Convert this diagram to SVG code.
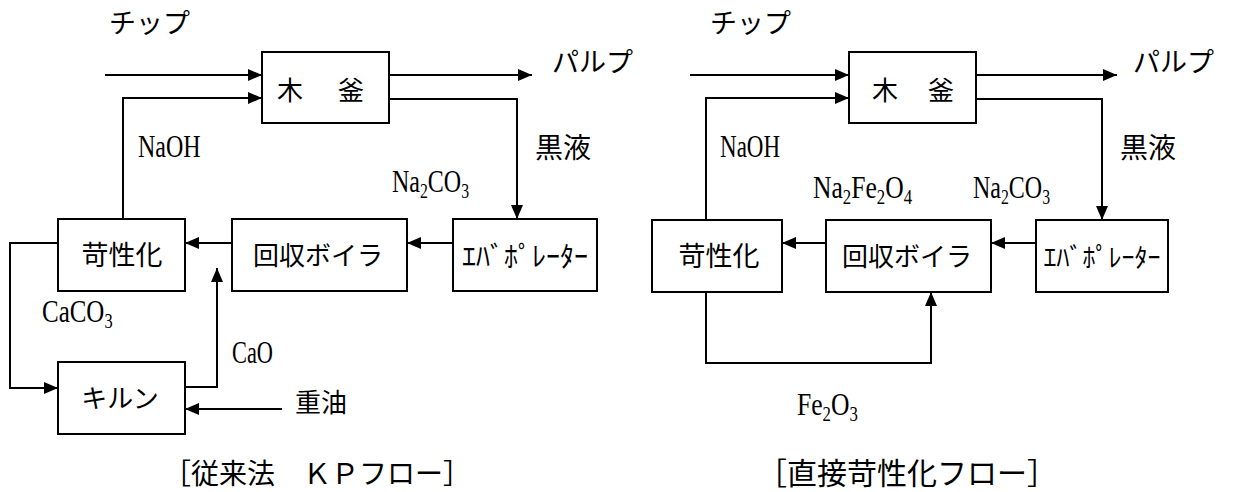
<svg xmlns="http://www.w3.org/2000/svg" width="1233" height="492" viewBox="0 0 1233 492">
<defs>
<style>
.box{fill:#fff;stroke:#000;stroke-width:2}
.ln{fill:none;stroke:#000;stroke-width:2}
.jp{font-family:"Noto Sans CJK JP",sans-serif;fill:#000}
.ch{font-family:"Liberation Serif",serif;font-size:32px;fill:#000}
.sb{font-size:21px}
</style>
<marker id="ah" viewBox="0 0 14 12" refX="14" refY="6" markerWidth="14" markerHeight="12" markerUnits="userSpaceOnUse" orient="auto"><path d="M0,0 L14,6 L0,12 z" fill="#000"/></marker>
</defs>
<rect width="1233" height="492" fill="#fff"/>

<g id="connectors">
<path class="ln" d="M105,75 H262" marker-end="url(#ah)"/>
<path class="ln" d="M123,219 V98 H262" marker-end="url(#ah)"/>
<path class="ln" d="M389,75 H532" marker-end="url(#ah)"/>
<path class="ln" d="M389,99 H517 V219" marker-end="url(#ah)"/>
<path class="ln" d="M453,243 H407" marker-end="url(#ah)"/>
<path class="ln" d="M232,243 H185" marker-end="url(#ah)"/>
<path class="ln" d="M58,243 H10 V388 H58" marker-end="url(#ah)"/>
<path class="ln" d="M185,387 H217 V268" marker-end="url(#ah)"/>
<path class="ln" d="M282,409 H185" marker-end="url(#ah)"/>

<path class="ln" d="M690,75 H849" marker-end="url(#ah)"/>
<path class="ln" d="M706,220 V98 H849" marker-end="url(#ah)"/>
<path class="ln" d="M976,75 H1117" marker-end="url(#ah)"/>
<path class="ln" d="M976,99 H1102 V220" marker-end="url(#ah)"/>
<path class="ln" d="M1036,243 H991" marker-end="url(#ah)"/>
<path class="ln" d="M826,243 H782" marker-end="url(#ah)"/>
<path class="ln" d="M706,292 V363 H931 V292" marker-end="url(#ah)"/>
</g>

<g id="kp-digester">
<rect class="box" x="262" y="52" width="127" height="71"/>
<text class="jp" x="290" y="100" font-size="26" text-anchor="middle">木</text>
<text class="jp" x="351" y="100" font-size="26" text-anchor="middle">釜</text>
</g>
<g id="kp-causticizer">
<rect class="box" x="58" y="219" width="127" height="72"/>
<text class="jp" x="122" y="265" font-size="27" text-anchor="middle">苛性化</text>
</g>
<g id="kp-boiler">
<rect class="box" x="232" y="219" width="175" height="72"/>
<text class="jp" x="318" y="265" font-size="26" text-anchor="middle">回収ボイラ</text>
</g>
<g id="kp-evaporator">
<rect class="box" x="453" y="219" width="144" height="72"/>
<text class="jp" x="525" y="267" font-size="28" text-anchor="middle">ｴﾊﾞﾎﾟﾚｰﾀｰ</text>
</g>
<g id="kp-kiln">
<rect class="box" x="58" y="362" width="127" height="72"/>
<text class="jp" x="120" y="408" font-size="26" text-anchor="middle">キルン</text>
</g>

<g id="dc-digester">
<rect class="box" x="849" y="52" width="127" height="71"/>
<text class="jp" x="885" y="100" font-size="26" text-anchor="middle">木</text>
<text class="jp" x="941" y="100" font-size="26" text-anchor="middle">釜</text>
</g>
<g id="dc-causticizer">
<rect class="box" x="652" y="220" width="130" height="72"/>
<text class="jp" x="719" y="266" font-size="27" text-anchor="middle">苛性化</text>
</g>
<g id="dc-boiler">
<rect class="box" x="826" y="220" width="165" height="72"/>
<text class="jp" x="907" y="266" font-size="26" text-anchor="middle">回収ボイラ</text>
</g>
<g id="dc-evaporator">
<rect class="box" x="1036" y="220" width="132" height="72"/>
<text class="jp" x="1102" y="267" font-size="26" text-anchor="middle">ｴﾊﾞﾎﾟﾚｰﾀｰ</text>
</g>

<g id="labels">
<text class="jp" x="109" y="33" font-size="27">チップ</text>
<text class="jp" x="552" y="72" font-size="27">パルプ</text>
<text class="jp" x="535" y="158" font-size="28">黒液</text>
<text class="jp" x="295" y="412" font-size="26">重油</text>
<text class="ch" transform="translate(138,157) scale(0.75,1)">NaOH</text>
<text class="ch" transform="translate(392,192) scale(0.75,1)">Na<tspan class="sb" dy="6">2</tspan><tspan dy="-6">CO</tspan><tspan class="sb" dy="6">3</tspan></text>
<text class="ch" transform="translate(42,322) scale(0.78,1)">CaCO<tspan class="sb" dy="6">3</tspan></text>
<text class="ch" transform="translate(232,363) scale(0.7,1)">CaO</text>
<text class="jp" x="163" y="484" font-size="28">［従来法　ＫＰフロー］</text>

<text class="jp" x="710" y="33" font-size="27">チップ</text>
<text class="jp" x="1133" y="72" font-size="27">パルプ</text>
<text class="jp" x="1120" y="158" font-size="28">黒液</text>
<text class="ch" transform="translate(720,157) scale(0.72,1)">NaOH</text>
<text class="ch" transform="translate(813,198) scale(0.8,1)">Na<tspan class="sb" dy="6">2</tspan><tspan dy="-6">Fe</tspan><tspan class="sb" dy="6">2</tspan><tspan dy="-6">O</tspan><tspan class="sb" dy="6">4</tspan></text>
<text class="ch" transform="translate(973,198) scale(0.75,1)">Na<tspan class="sb" dy="6">2</tspan><tspan dy="-6">CO</tspan><tspan class="sb" dy="6">3</tspan></text>
<text class="ch" transform="translate(797,415) scale(0.8,1)">Fe<tspan class="sb" dy="6">2</tspan><tspan dy="-6">O</tspan><tspan class="sb" dy="6">3</tspan></text>
<text class="jp" x="757" y="484" font-size="30">［直接苛性化フロー］</text>
</g>
</svg>
